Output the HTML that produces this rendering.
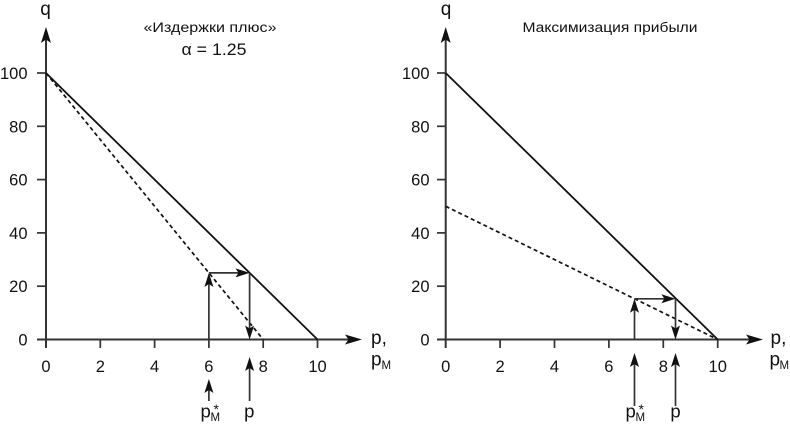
<!DOCTYPE html>
<html><head><meta charset="utf-8">
<style>
html,body{margin:0;padding:0;background:#fff;}
svg{display:block;}
text{font-family:"Liberation Sans","DejaVu Sans",sans-serif;fill:#111;}
</style></head>
<body>
<svg width="790" height="424" viewBox="0 0 790 424" xmlns="http://www.w3.org/2000/svg">
<!-- ============ LEFT CHART ============ -->
<g>
  <line x1="46" y1="348" x2="46" y2="34" stroke="#333" stroke-width="2"/>
  <polygon points="46,27 41,43 46,39.5 51,43" fill="#111"/>
  <line x1="37" y1="339.5" x2="352" y2="339.5" stroke="#333" stroke-width="2"/>
  <polygon points="362,339.5 345,334.5 348.5,339.5 345,344.5" fill="#111"/>
  <g stroke="#333" stroke-width="1.7">
    <line x1="37" y1="73" x2="46" y2="73"/>
    <line x1="37" y1="126.3" x2="46" y2="126.3"/>
    <line x1="37" y1="179.6" x2="46" y2="179.6"/>
    <line x1="37" y1="232.9" x2="46" y2="232.9"/>
    <line x1="37" y1="286.2" x2="46" y2="286.2"/>
    <line x1="100.3" y1="339.5" x2="100.3" y2="348"/>
    <line x1="154.6" y1="339.5" x2="154.6" y2="348"/>
    <line x1="208.9" y1="339.5" x2="208.9" y2="348"/>
    <line x1="263.2" y1="339.5" x2="263.2" y2="348"/>
    <line x1="317.5" y1="339.5" x2="317.5" y2="348"/>
  </g>
  <g font-size="16.5" text-anchor="end">
    <text x="27.5" y="79">100</text>
    <text x="27.5" y="132.3">80</text>
    <text x="27.5" y="185.6">60</text>
    <text x="27.5" y="238.9">40</text>
    <text x="27.5" y="292.2">20</text>
    <text x="27.5" y="345.5">0</text>
  </g>
  <g font-size="16.5" text-anchor="middle">
    <text x="46" y="372">0</text>
    <text x="100.3" y="372">2</text>
    <text x="154.6" y="372">4</text>
    <text x="208.9" y="372">6</text>
    <text x="263.2" y="372">8</text>
    <text x="317.5" y="372">10</text>
  </g>
  <text x="45.5" y="15" font-size="19" text-anchor="middle">q</text>
  <text x="371" y="344" font-size="19">p,</text>
  <text x="371" y="365.5" font-size="19">p</text>
  <text x="381.5" y="369" font-size="11.5">M</text>
  <text x="210" y="32" font-size="13.5" text-anchor="middle" textLength="133" lengthAdjust="spacingAndGlyphs">«Издержки плюс»</text>
  <text x="214" y="55" font-size="16.5" text-anchor="middle" textLength="65" lengthAdjust="spacingAndGlyphs">α = 1.25</text>
  <line x1="46" y1="73" x2="317.5" y2="339.5" stroke="#111" stroke-width="1.8"/>
  <line x1="46" y1="73" x2="263.2" y2="339.5" stroke="#111" stroke-width="1.7" stroke-dasharray="4 3"/>
  <g stroke="#333" stroke-width="1.7">
    <line x1="208.9" y1="339.5" x2="208.9" y2="282"/>
    <line x1="208.9" y1="272.9" x2="240" y2="272.9"/>
    <line x1="249.6" y1="272.9" x2="249.6" y2="330"/>
    <line x1="208.9" y1="401" x2="208.9" y2="390"/>
    <line x1="249.6" y1="401" x2="249.6" y2="368"/>
  </g>
  <polygon points="208.9,272.9 204.4,287 208.9,284 213.4,287" fill="#111"/>
  <polygon points="249.6,272.9 235.5,268.4 238.5,272.9 235.5,277.4" fill="#111"/>
  <polygon points="249.6,339.5 245.1,325.5 249.6,328.5 254.1,325.5" fill="#111"/>
  <polygon points="208.9,379 204.4,393 208.9,390 213.4,393" fill="#111"/>
  <polygon points="249.6,357 245.1,371 249.6,368 254.1,371" fill="#111"/>
  <text x="200.5" y="417.5" font-size="18.5">p</text>
  <text x="210.5" y="421" font-size="11.5">M</text>
  <text x="213.5" y="414" font-size="14">*</text>
  <text x="249.3" y="417.5" font-size="18.5" text-anchor="middle">p</text>
</g>

<!-- ============ RIGHT CHART ============ -->
<g>
  <line x1="445.7" y1="348" x2="445.7" y2="34" stroke="#333" stroke-width="2"/>
  <polygon points="445.7,27 440.7,43 445.7,39.5 450.7,43" fill="#111"/>
  <line x1="437" y1="339.5" x2="753" y2="339.5" stroke="#333" stroke-width="2"/>
  <polygon points="763,339.5 746,334.5 749.5,339.5 746,344.5" fill="#111"/>
  <g stroke="#333" stroke-width="1.7">
    <line x1="437" y1="73" x2="445.7" y2="73"/>
    <line x1="437" y1="126.3" x2="445.7" y2="126.3"/>
    <line x1="437" y1="179.6" x2="445.7" y2="179.6"/>
    <line x1="437" y1="232.9" x2="445.7" y2="232.9"/>
    <line x1="437" y1="286.2" x2="445.7" y2="286.2"/>
    <line x1="500.1" y1="339.5" x2="500.1" y2="348"/>
    <line x1="554.5" y1="339.5" x2="554.5" y2="348"/>
    <line x1="608.9" y1="339.5" x2="608.9" y2="348"/>
    <line x1="663.3" y1="339.5" x2="663.3" y2="348"/>
    <line x1="717.7" y1="339.5" x2="717.7" y2="348"/>
  </g>
  <g font-size="16.5" text-anchor="end">
    <text x="429.5" y="79">100</text>
    <text x="429.5" y="132.3">80</text>
    <text x="429.5" y="185.6">60</text>
    <text x="429.5" y="238.9">40</text>
    <text x="429.5" y="292.2">20</text>
    <text x="429.5" y="345.5">0</text>
  </g>
  <g font-size="16.5" text-anchor="middle">
    <text x="445.7" y="372">0</text>
    <text x="500.1" y="372">2</text>
    <text x="554.5" y="372">4</text>
    <text x="608.9" y="372">6</text>
    <text x="663.3" y="372">8</text>
    <text x="717.7" y="372">10</text>
  </g>
  <text x="446" y="15" font-size="19" text-anchor="middle">q</text>
  <text x="770.5" y="344" font-size="19">p,</text>
  <text x="769.5" y="365.5" font-size="19">p</text>
  <text x="779.5" y="369" font-size="11.5">M</text>
  <text x="610" y="32" font-size="13.5" text-anchor="middle" textLength="175" lengthAdjust="spacingAndGlyphs">Максимизация прибыли</text>
  <line x1="445.7" y1="73" x2="717.7" y2="339.5" stroke="#111" stroke-width="1.8"/>
  <line x1="445.7" y1="206.3" x2="717.7" y2="339.5" stroke="#111" stroke-width="1.7" stroke-dasharray="4 3"/>
  <g stroke="#333" stroke-width="1.7">
    <line x1="634.5" y1="339.5" x2="634.5" y2="308"/>
    <line x1="634.5" y1="298.8" x2="666" y2="298.8"/>
    <line x1="675.5" y1="298.8" x2="675.5" y2="330"/>
    <line x1="634.5" y1="406" x2="634.5" y2="364"/>
    <line x1="675.5" y1="406" x2="675.5" y2="364"/>
  </g>
  <polygon points="634.5,298.8 630,312.8 634.5,309.8 639,312.8" fill="#111"/>
  <polygon points="675.5,298.8 661.4,294.3 664.4,298.8 661.4,303.3" fill="#111"/>
  <polygon points="675.5,339.5 671,325.5 675.5,328.5 680,325.5" fill="#111"/>
  <polygon points="634.5,353 630,367 634.5,364 639,367" fill="#111"/>
  <polygon points="675.5,353 671,367 675.5,364 680,367" fill="#111"/>
  <text x="625.5" y="417.5" font-size="18.5">p</text>
  <text x="635.5" y="421" font-size="11.5">M</text>
  <text x="638.5" y="414" font-size="14">*</text>
  <text x="675.5" y="417.5" font-size="18.5" text-anchor="middle">p</text>
</g>
</svg>
</body></html>
